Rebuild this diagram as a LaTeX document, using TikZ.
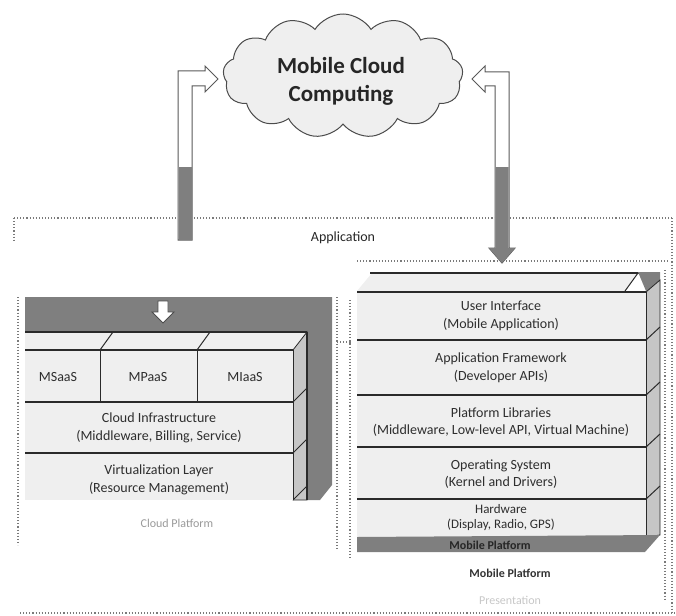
\documentclass[tikz,border=0pt]{standalone}
\usepackage{fontspec}
\setmainfont{Carlito}
\usetikzlibrary{shapes.symbols}
\definecolor{facelight}{HTML}{EFEFEF}
\definecolor{faceside}{HTML}{C6C6C6}
\definecolor{darkband}{HTML}{7F7F7F}
\definecolor{edge}{HTML}{2A2A2A}
\definecolor{txt}{HTML}{2E2E2E}
\definecolor{dotc}{HTML}{7A7A7A}
\tikzset{
  rowtext/.style={text=txt,font=\fontsize{14}{17.5}\selectfont,align=center,inner sep=0pt},
  rowline/.style={draw=edge,line width=1.3pt},
  frontface/.style={fill=facelight},
  sideface/.style={fill=faceside,draw=edge,line width=0.8pt},
  dotline/.style={draw=dotc,dotted,line width=1.1pt},
  hollowarrow/.style={draw=black!65,line width=1pt,fill=white},
  grayarrow/.style={fill=darkband},
}
\begin{document}
\begin{tikzpicture}[x=1pt,y=-1pt]
\useasboundingbox (0,0) rectangle (676,615);

% ---------- dotted frames ----------
\draw[dotline] (14,218) -- (672,218);
\draw[dotline] (14,218) -- (14,240);
\draw[dotline] (672,218) -- (672,613);
\draw[dotline] (18,297) -- (18,545);
\draw[dotline] (20,613) -- (676,613);
\draw[dotline] (337,297) -- (337,550);
\draw[dotline] (357,261) -- (670,261);
\draw[dotline] (350,300) -- (350,560);
\draw[dotline] (665,270) -- (665,600);
\draw[dotline] (337,342) -- (352,342);

% ---------- cloud ----------
\node[cloud,cloud puffs=13,cloud puff arc=115,aspect=1.9,
      draw=black!70,line width=1pt,fill=facelight,
      minimum width=240pt,minimum height=124pt,inner sep=0pt] (cloud) at (343,76) {};
\node[font=\fontsize{23}{28}\selectfont\bfseries,text=black!85,align=center] (cloudtxt) at (341,81)
  {Mobile Cloud\\Computing};

% ---------- left elbow arrow ----------
\draw[hollowarrow] (178,240) -- (178,71) -- (205,71) -- (205,66) -- (218,79)
   -- (205,92) -- (205,86) -- (192,86) -- (192,240) -- cycle;
\fill[grayarrow] (178.5,167) rectangle (191.5,240);

% ---------- right elbow arrow ----------
\draw[hollowarrow] (472,79) -- (485,66) -- (485,72) -- (509,72) -- (509,248)
   -- (515,248) -- (502,263) -- (489,248) -- (495,248) -- (495,86) -- (485,86) -- (485,92) -- cycle;
\fill[grayarrow] (495.5,167) -- (508.5,167) -- (508.5,248) -- (515,248) -- (502,263)
   -- (489,248) -- (495.5,248) -- cycle;

% ---------- Application label ----------
\node[font=\fontsize{14}{16}\selectfont,text=black!85] (app) at (343,238) {Application};

% ---------- left stack (cloud platform) ----------
\fill[darkband] (25,297) rectangle (332,332);
\fill[darkband] (307,297) -- (332,297) -- (332,485) -- (320,500) -- (307,500) -- cycle;
% small white down arrow
\draw[draw=black!70,line width=0.9pt,fill=white] (158,301) -- (168,301) -- (168,312) -- (174,312)
   -- (163,323) -- (152,312) -- (158,312) -- cycle;
% top face
\fill[facelight] (25,332) -- (307,332) -- (293,350) -- (25,350) -- cycle;
\draw[rowline] (25,332) -- (307,332);
\draw[edge,line width=1pt] (100,350) -- (113,332) (197,350) -- (210,332);
% side face
\draw[sideface] (293,350) -- (307,332) -- (307,500) -- (293,500) -- cycle;
\draw[edge,line width=1pt] (293,402) -- (307,388) (293,453) -- (307,439) (293,500) -- (307,486);
\draw[edge,line width=2pt] (307,332) -- (307,500);
% front rows
\fill[frontface] (25,350) rectangle (293,500);
\draw[rowline] (25,350) -- (293,350);
\draw[rowline] (25,402) -- (293,402);
\draw[rowline] (25,453) -- (293,453);
\draw[edge,line width=1pt] (100,350) -- (100,402) (197,350) -- (197,402);
\draw[edge,line width=1pt] (293,350) -- (293,500);
\node[rowtext] (msaas) at (58,377) {MSaaS};
\node[rowtext] (mpaas) at (148,377) {MPaaS};
\node[rowtext] (miaas) at (245,377) {MIaaS};
\node[rowtext] (cinfra) at (159,428) {Cloud Infrastructure\\(Middleware, Billing, Service)};
\node[rowtext] (virt) at (159,480) {Virtualization Layer\\(Resource Management)};
\node[rowtext,text=black!40,font=\fontsize{12}{14}\selectfont] (cplat) at (177,523) {Cloud Platform};

% ---------- right stack (mobile platform) ----------
\fill[facelight] (372,273) -- (638,273) -- (625,291) -- (357,291) -- cycle;
\draw[edge,line width=2.2pt] (370,273) -- (640,273);
\draw[edge,line width=1pt] (638,273) -- (625,291);
\fill[darkband] (638,272) -- (660,272) -- (660,291) -- (646,291) -- cycle;
\draw[sideface] (646,292) -- (660,280) -- (660,535) -- (646,537) -- cycle;
\draw[edge,line width=1pt] (646,340) -- (660,327) (646,395) -- (660,382)
   (646,447) -- (660,434) (646,499) -- (660,486);
\fill[frontface] (357,292) rectangle (646,537);
\draw[rowline] (357,292) -- (646,292);
\draw[rowline] (357,340) -- (646,340);
\draw[rowline] (357,395) -- (646,395);
\draw[rowline] (357,447) -- (646,447);
\draw[rowline] (357,499) -- (646,499);
\draw[edge,line width=1pt] (646,292) -- (646,537);
\node[rowtext] (ui) at (501,316) {User Interface\\(Mobile Application)};
\node[rowtext] (af) at (501,368) {Application Framework\\(Developer APIs)};
\node[rowtext] (pl) at (501,422) {Platform Libraries\\(Middleware, Low-level API, Virtual Machine)};
\node[rowtext] (os) at (501,474) {Operating System\\(Kernel and Drivers)};
\node[rowtext,font=\fontsize{13}{15}\selectfont] (hw) at (501,518) {Hardware\\(Display, Radio, GPS)};
\fill[darkband] (357,537) -- (660,535) -- (645,552) -- (357,552) -- cycle;
\node[font=\fontsize{12}{14}\selectfont\bfseries,text=black!85] (mpband) at (490,545.5) {Mobile Platform};
\node[font=\fontsize{12}{14}\selectfont\bfseries,text=black!80] (mplat) at (510,573) {Mobile Platform};
\node[font=\fontsize{12}{14}\selectfont,text=black!22] (pres) at (510,600) {Presentation};
\end{tikzpicture}
\end{document}
